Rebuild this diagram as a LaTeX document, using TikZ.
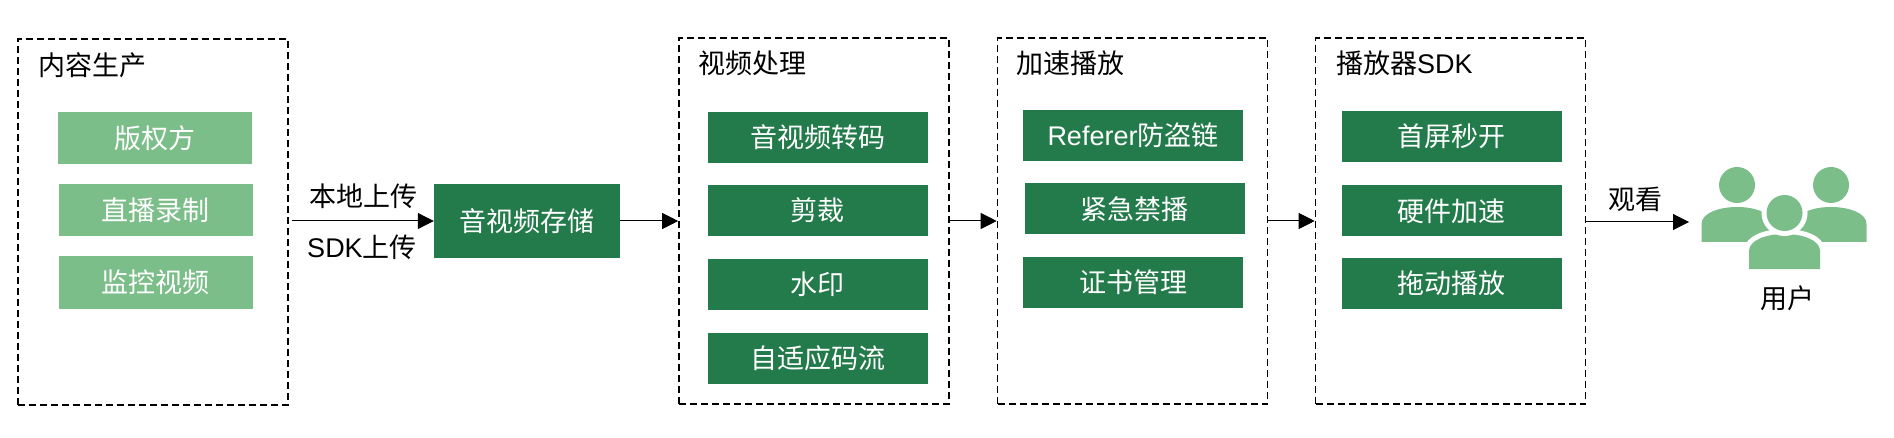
\documentclass[tikz,border=0pt]{standalone}
\usepackage{fontspec}
\setmainfont{Noto Sans CJK SC}
\newfontfamily\latfont{Liberation Sans}
\definecolor{GreenDark}{HTML}{237A4A}
\definecolor{GreenLight}{HTML}{7CBE89}
\usepackage{tikz}
\usetikzlibrary{positioning, arrows.meta}

\begin{document}
\begin{tikzpicture}[
  x=1pt, y=-1pt,
  every node/.style={font=\fontsize{27}{30}\selectfont, inner sep=0pt},
  frame/.style={draw=black, line width=1.6pt, dash pattern=on 7pt off 4pt,
                minimum width=270pt, minimum height=366pt},
  dark/.style={fill=GreenDark, text=white, minimum width=220pt, minimum height=51pt},
  light/.style={fill=GreenLight, text=white, minimum width=194pt, minimum height=52pt},
  ttl/.style={anchor=west},
  arr/.style={-{Triangle[length=16pt, width=16pt]}, line width=1pt, black},
  head/.style={circle, fill=GreenLight, minimum size=36pt},
  ring/.style={preaction={draw=white, line width=10pt}},
]
  \useasboundingbox (0,0) rectangle (1894,438);

  % dashed groups
  \node[frame] (cnt) at (153,222) {};
  \node[frame] (vid) at (814,221) {};
  \node[frame] (cdn) at (1132.5,221) {};
  \node[frame] (sdk) at (1450.5,221) {};

  \node[ttl] (cntttl) at (38,65) {内容生产};
  \node[ttl] (vidttl) at (698,63) {视频处理};
  \node[ttl] (cdnttl) at (1016,63) {加速播放};
  \node[ttl] (sdkttl) at (1336,63) {播放器{\latfont SDK}};

  \node[light] (src) at (155,138) {版权方};
  \node[light] (rec) at (155.5,210.5) {直播录制};
  \node[light] (mon) at (155.5,282.5) {监控视频};

  \node[dark, minimum width=186pt, minimum height=74pt] (store) at (527,221) {音视频存储};

  \node[dark] (trans) at (817.5,137.5) {音视频转码};
  \node[dark] (crop) at (817.5,210.5) {剪裁};
  \node[dark] (mark) at (817.5,284.5) {水印};
  \node[dark] (abr) at (817.5,358) {自适应码流};

  \node[dark] (refr) at (1133,135.5) {{\latfont Referer}防盗链};
  \node[dark] (ban) at (1134.5,209) {紧急禁播};
  \node[dark] (cert) at (1133,282.5) {证书管理};

  \node[dark] (fast) at (1451.5,136.5) {首屏秒开};
  \node[dark] (hw) at (1451.5,211) {硬件加速};
  \node[dark] (drag) at (1451.5,283.5) {拖动播放};

  % users
  \foreach \cx/\ty in {1737/207, 1831/207}
    \fill[GreenLight] (\cx-35.5,\ty+35) -- (\cx-35.5,\ty+17)
      .. controls (\cx-35.5,\ty+6) and (\cx-18,\ty) .. (\cx,\ty)
      .. controls (\cx+18,\ty) and (\cx+35.5,\ty+6) .. (\cx+35.5,\ty+17)
      -- (\cx+35.5,\ty+35) -- cycle;
  \node[head] (headl) at (1737,185) {};
  \node[head] (headr) at (1831,185) {};
  \fill[GreenLight, ring] (1749,269) -- (1749,251)
      .. controls (1749,240) and (1766.5,234) .. (1784.5,234)
      .. controls (1802.5,234) and (1820,240) .. (1820,251)
      -- (1820,269) -- cycle;
  \node[head, ring] (headc) at (1784.5,213) {};
  \node (user) at (1787,298) {用户};
  \coordinate (usrin) at (1689,222);

  \draw[arr, shorten <=3pt] (cnt.east |- store) -- (store.west);
  \draw[arr] (store.east) -- (vid.west);
  \draw[arr] (vid.east) -- (cdn.west);
  \draw[arr] (cdn.east) -- (sdk.west);
  \draw[arr] (sdk.east |- usrin) -- (usrin);

  \node (local) at (363,196) {本地上传};
  \node (upl) at (362,247) {{\latfont SDK}上传};
  \node (watch) at (1635,199) {观看};
\end{tikzpicture}
\end{document}
